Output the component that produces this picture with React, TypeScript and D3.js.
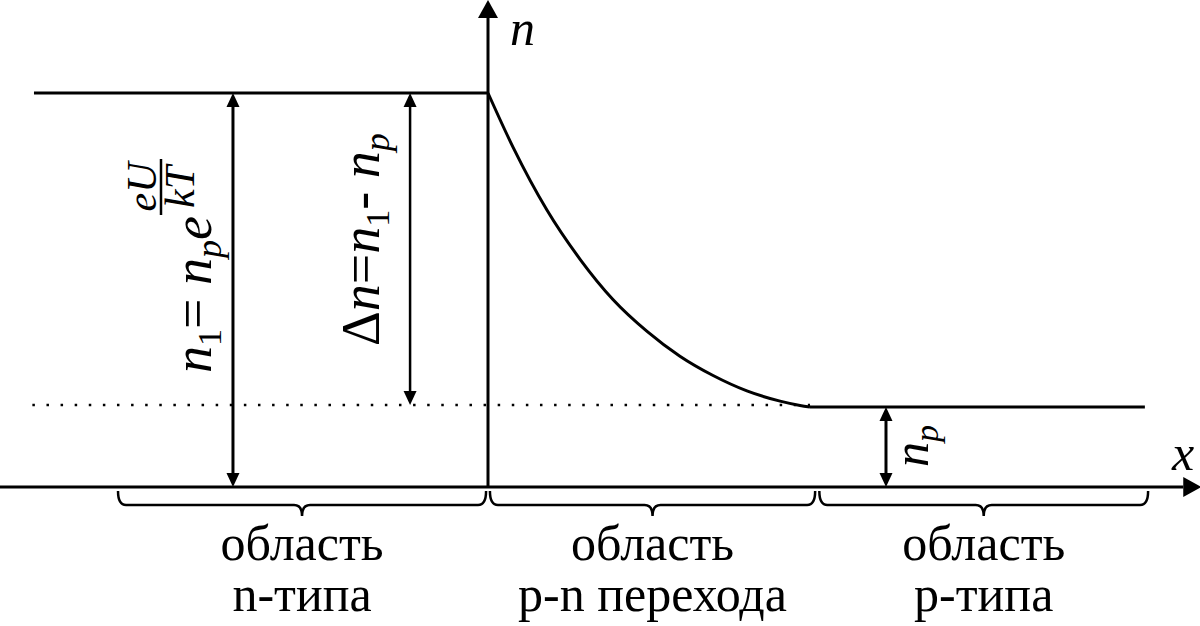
import React from "react";
import * as d3 from "d3";

// ---- data (relative units: x = coordinate across junction, n = concentration / n1) ----
const levelN1 = 1.0;            // n1 level in n-region
const levelNp = 0.203;          // n_p level in p-region
const nRegionStart = -1.41;     // start of the n-region line
const pRegionEnd = 2.04;        // end of the p-region line
const axisXMin = -1.52;
const axisXMax = 2.215;
const axisNMax = 1.236;
const dottedStart = -1.415;
const dottedEnd = 1.0;
const dottedLevel = 0.208;

// p-n transition curve
const curveX = [0, 0.078, 0.183, 0.286, 0.388, 0.494, 0.596, 0.699, 0.804, 0.907, 0.969, 1.0];
const curveN = [1.0, 0.862, 0.703, 0.578, 0.476, 0.395, 0.332, 0.283, 0.244, 0.218, 0.207, 0.203];

// double-arrow positions (x) with their [from, to] levels
const arrowX = [-0.792, -0.242, 1.236];
const arrowFrom = [0, 0.208, 0];
const arrowTo = [1.0, 1.0, 0.203];

// braces beneath the axis
const braceStart = [-1.149, 0.006, 1.029];
const braceEnd = [-0.006, 1.016, 2.05];
const regionLine1 = ["область", "область", "область"];
const regionLine2 = ["n-типа", "p-n перехода", "p-типа"];

const W = 1200;
const H = 626;

const x = d3.scaleLinear().domain([0, 1]).range([488, 810]);
const y = d3.scaleLinear().domain([0, 1]).range([487, 93]);

const FONT = '"Liberation Serif", Tinos, "Times New Roman", Times, "DejaVu Serif", serif';

function brace(x1: number, x2: number, y0: number) {
  const h = 14;
  const tip = 11;
  const q = 8;
  const m = (x1 + x2) / 2;
  const y1 = y0 + h;
  return `M${x1},${y0} Q${x1},${y1} ${x1 + q},${y1} L${m - q},${y1} Q${m},${y1} ${m},${y1 + tip} Q${m},${y1} ${m + q},${y1} L${x2 - q},${y1} Q${x2},${y1} ${x2},${y0}`;
}

export default function App() {
  const curvePts: [number, number][] = curveX.map((cx, i) => [cx, curveN[i]]);
  const curveLine = d3
    .line<[number, number]>()
    .x((d) => x(d[0]))
    .y((d) => y(d[1]))
    .curve(d3.curveMonotoneX);
  const straight = d3
    .line<[number, number]>()
    .x((d) => x(d[0]))
    .y((d) => y(d[1]));

  const y0px = y(0);
  const x0px = x(0);
  const ah = 18; // axis arrowhead length
  const aw = 10; // axis arrowhead half width
  const sh = 14; // small arrowhead length
  const sw = 6.5;
  const ts = { fontFamily: FONT };

  return (
    <svg
      width={W}
      height={H}
      viewBox={`0 0 ${W} ${H}`}
      style={{ position: "absolute", left: 0, top: 0, background: "#fff", fontFamily: FONT }}
    >
      {/* dotted n_p level */}
      <line
        x1={x(dottedStart)}
        x2={x(dottedEnd)}
        y1={y(dottedLevel)}
        y2={y(dottedLevel)}
        stroke="#000"
        strokeWidth={2.5}
        strokeDasharray="2.5 11.6"
      />
      {/* x axis */}
      <line x1={x(axisXMin)} x2={x(axisXMax) - ah} y1={y0px} y2={y0px} stroke="#000" strokeWidth={3} />
      <path
        d={`M${x(axisXMax)},${y0px} L${x(axisXMax) - ah},${y0px - aw} L${x(axisXMax) - ah},${y0px + aw} Z`}
        fill="#000"
      />
      {/* n axis */}
      <line x1={x0px} x2={x0px} y1={y0px} y2={y(axisNMax) + ah} stroke="#000" strokeWidth={3} />
      <path
        d={`M${x0px},${y(axisNMax)} L${x0px - aw},${y(axisNMax) + ah} L${x0px + aw},${y(axisNMax) + ah} Z`}
        fill="#000"
      />
      {/* n-region level */}
      <path
        d={straight([[nRegionStart, levelN1], [0, levelN1]]) || ""}
        stroke="#000"
        strokeWidth={3}
        fill="none"
      />
      {/* transition curve */}
      <path d={curveLine(curvePts) || ""} stroke="#000" strokeWidth={3} fill="none" />
      {/* p-region level */}
      <path
        d={straight([[1.0, levelNp], [pRegionEnd, levelNp]]) || ""}
        stroke="#000"
        strokeWidth={3}
        fill="none"
      />
      {/* double arrows */}
      {arrowX.map((ax, i) => {
        const px = x(ax);
        const yTop = y(arrowTo[i]);
        const yBot = y(arrowFrom[i]);
        return (
          <g key={i}>
            <line x1={px} x2={px} y1={yTop + sh} y2={yBot - sh} stroke="#000" strokeWidth={i === 1 ? 2.5 : 3} />
            <path d={`M${px},${yTop} L${px - sw},${yTop + sh} L${px + sw},${yTop + sh} Z`} fill="#000" />
            <path d={`M${px},${yBot} L${px - sw},${yBot - sh} L${px + sw},${yBot - sh} Z`} fill="#000" />
          </g>
        );
      })}
      {/* braces */}
      {braceStart.map((b, i) => (
        <path key={i} d={brace(x(b), x(braceEnd[i]), y0px + 4)} stroke="#000" strokeWidth={2.5} fill="none" />
      ))}
      {/* region labels */}
      {braceStart.map((b, i) => {
        const m = (x(b) + x(braceEnd[i])) / 2;
        return (
          <g key={i} fontSize={50} textAnchor="middle">
            <text x={m} y={560} style={ts}>{regionLine1[i]}</text>
            <text x={m} y={611} style={ts}>{regionLine2[i]}</text>
          </g>
        );
      })}
      {/* axis labels */}
      <text x={510} y={45} fontSize={50} fontStyle="italic" style={ts}>n</text>
      <text x={1172} y={470} fontSize={50} fontStyle="italic" style={ts}>x</text>

      {/* n1 formula, rotated */}
      <g transform="translate(211,373) rotate(-90)" fontSize={54} fontStyle="italic">
        <text x={0} y={0} style={ts}>
          <tspan>n</tspan>
          <tspan dy={10} fontSize={34} fontStyle="normal">1</tspan>
          <tspan dy={-10} fontStyle="normal">=</tspan>
          <tspan> n</tspan>
          <tspan dy={10} fontSize={36}>p</tspan>
          <tspan dy={-10}>e</tspan>
        </text>
        <g transform="translate(186,0)" fontSize={42} textAnchor="middle">
          <text x={0} y={-55} style={ts}>eU</text>
          <line x1={-28} x2={28} y1={-50} y2={-50} stroke="#000" strokeWidth={2.5} />
          <text x={0} y={-17} style={ts}>kT</text>
        </g>
      </g>

      {/* delta n formula, rotated */}
      <g transform="translate(379,346) rotate(-90)" fontSize={54} fontStyle="italic">
        <text x={0} y={0} style={ts}>
          <tspan fontStyle="normal">Δ</tspan>
          <tspan>n</tspan>
          <tspan fontStyle="normal">=</tspan>
          <tspan>n</tspan>
          <tspan dy={10} fontSize={34} fontStyle="normal">1</tspan>
          <tspan dy={-10} fontStyle="normal">-</tspan>
          <tspan> n</tspan>
          <tspan dy={10} fontSize={36}>p</tspan>
        </text>
      </g>

      {/* n_p label, rotated */}
      <g transform="translate(928,467) rotate(-90)" fontSize={50} fontStyle="italic">
        <text x={0} y={0} style={ts}>
          <tspan>n</tspan>
          <tspan dy={10} fontSize={34}>p</tspan>
        </text>
      </g>
    </svg>
  );
}
